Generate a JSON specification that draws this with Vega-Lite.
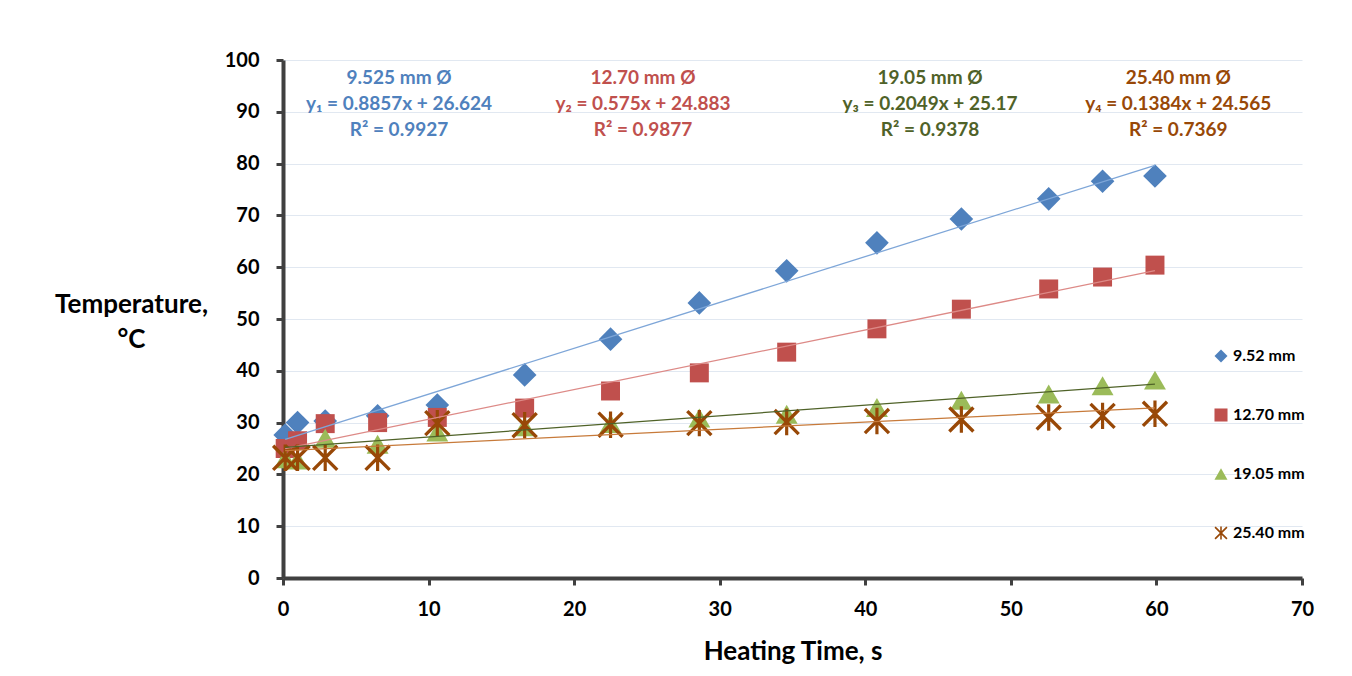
{
  "$schema": "https://vega.github.io/schema/vega-lite/v6.json",
  "width": 1019,
  "height": 518,
  "autosize": {"type": "none"},
  "padding": {"left": 283, "top": 60, "right": 50, "bottom": 98},
  "background": "white",
  "config": {
    "view": {"stroke": null},
    "font": "Lato",
    "axis": {
      "labelFont": "Lato", "labelFontWeight": "bold", "labelFontSize": 20, "labelColor": "#000000",
      "titleFont": "Lato", "titleFontWeight": "bold", "titleFontSize": 26, "titleColor": "#000000",
      "domainColor": "#404040", "domainWidth": 4, "tickColor": "#404040", "tickWidth": 3, "tickSize": 7,
      "gridColor": "#e1e8f1", "gridWidth": 1, "labelFlush": false
    },
    "legend": {
      "labelFont": "Lato", "labelFontWeight": "bold", "labelFontSize": 16, "labelColor": "#000000",
      "symbolSize": 170, "symbolStrokeWidth": 0, "symbolOpacity": 1
    }
  },
  "datasets": {
    "pts": [
      {"series": "9.52 mm", "t": 0.15, "temp": 27.6},
      {"series": "9.52 mm", "t": 1.0, "temp": 30.0},
      {"series": "9.52 mm", "t": 2.9, "temp": 30.3},
      {"series": "9.52 mm", "t": 6.5, "temp": 31.3},
      {"series": "9.52 mm", "t": 10.6, "temp": 33.4},
      {"series": "9.52 mm", "t": 16.6, "temp": 39.2},
      {"series": "9.52 mm", "t": 22.5, "temp": 46.1},
      {"series": "9.52 mm", "t": 28.6, "temp": 53.1},
      {"series": "9.52 mm", "t": 34.6, "temp": 59.3},
      {"series": "9.52 mm", "t": 40.8, "temp": 64.7},
      {"series": "9.52 mm", "t": 46.6, "temp": 69.3},
      {"series": "9.52 mm", "t": 52.6, "temp": 73.2},
      {"series": "9.52 mm", "t": 56.3, "temp": 76.6},
      {"series": "9.52 mm", "t": 59.9, "temp": 77.6},
      {"series": "12.70 mm", "t": 0.15, "temp": 25.0},
      {"series": "12.70 mm", "t": 1.0, "temp": 26.5},
      {"series": "12.70 mm", "t": 2.9, "temp": 29.8},
      {"series": "12.70 mm", "t": 6.5, "temp": 30.0},
      {"series": "12.70 mm", "t": 10.6, "temp": 31.0},
      {"series": "12.70 mm", "t": 16.6, "temp": 32.8},
      {"series": "12.70 mm", "t": 22.5, "temp": 36.1},
      {"series": "12.70 mm", "t": 28.6, "temp": 39.6},
      {"series": "12.70 mm", "t": 34.6, "temp": 43.6},
      {"series": "12.70 mm", "t": 40.8, "temp": 48.1},
      {"series": "12.70 mm", "t": 46.6, "temp": 51.9},
      {"series": "12.70 mm", "t": 52.6, "temp": 55.8},
      {"series": "12.70 mm", "t": 56.3, "temp": 58.1},
      {"series": "12.70 mm", "t": 59.9, "temp": 60.4},
      {"series": "19.05 mm", "t": 0.15, "temp": 23.0},
      {"series": "19.05 mm", "t": 1.0, "temp": 22.8},
      {"series": "19.05 mm", "t": 2.9, "temp": 27.0},
      {"series": "19.05 mm", "t": 6.5, "temp": 25.8},
      {"series": "19.05 mm", "t": 10.6, "temp": 28.2},
      {"series": "19.05 mm", "t": 16.6, "temp": 29.2},
      {"series": "19.05 mm", "t": 22.5, "temp": 29.8},
      {"series": "19.05 mm", "t": 28.6, "temp": 30.9},
      {"series": "19.05 mm", "t": 34.6, "temp": 31.6},
      {"series": "19.05 mm", "t": 40.8, "temp": 32.9},
      {"series": "19.05 mm", "t": 46.6, "temp": 34.3},
      {"series": "19.05 mm", "t": 52.6, "temp": 35.5},
      {"series": "19.05 mm", "t": 56.3, "temp": 37.1},
      {"series": "19.05 mm", "t": 59.9, "temp": 38.2},
      {"series": "25.40 mm", "t": 0.15, "temp": 23.2},
      {"series": "25.40 mm", "t": 1.0, "temp": 23.2},
      {"series": "25.40 mm", "t": 2.9, "temp": 23.2},
      {"series": "25.40 mm", "t": 6.5, "temp": 23.2},
      {"series": "25.40 mm", "t": 10.6, "temp": 29.9},
      {"series": "25.40 mm", "t": 16.6, "temp": 29.5},
      {"series": "25.40 mm", "t": 22.5, "temp": 29.6},
      {"series": "25.40 mm", "t": 28.6, "temp": 29.9},
      {"series": "25.40 mm", "t": 34.6, "temp": 30.1},
      {"series": "25.40 mm", "t": 40.8, "temp": 30.3},
      {"series": "25.40 mm", "t": 46.6, "temp": 30.6},
      {"series": "25.40 mm", "t": 52.6, "temp": 31.0},
      {"series": "25.40 mm", "t": 56.3, "temp": 31.3},
      {"series": "25.40 mm", "t": 59.9, "temp": 31.7}
    ],
    "fits": [
      {"series": "9.52 mm", "t": 0.15, "temp": 26.757},
      {"series": "9.52 mm", "t": 59.9, "temp": 79.677},
      {"series": "12.70 mm", "t": 0.15, "temp": 24.969},
      {"series": "12.70 mm", "t": 59.9, "temp": 59.326},
      {"series": "19.05 mm", "t": 0.15, "temp": 25.201},
      {"series": "19.05 mm", "t": 59.9, "temp": 37.444},
      {"series": "25.40 mm", "t": 0.15, "temp": 24.586},
      {"series": "25.40 mm", "t": 59.9, "temp": 32.855}
    ],
    "notes": [
      {"series": "9.52 mm", "t": 7.97, "temp": 96.5, "label": "9.525 mm Ø"},
      {"series": "9.52 mm", "t": 7.97, "temp": 91.5, "label": "y₁ = 0.8857x + 26.624"},
      {"series": "9.52 mm", "t": 7.97, "temp": 86.5, "label": "R² = 0.9927"},
      {"series": "12.70 mm", "t": 24.73, "temp": 96.5, "label": "12.70 mm  Ø"},
      {"series": "12.70 mm", "t": 24.73, "temp": 91.5, "label": "y₂ = 0.575x + 24.883"},
      {"series": "12.70 mm", "t": 24.73, "temp": 86.5, "label": "R² = 0.9877"},
      {"series": "19.05 mm", "t": 44.45, "temp": 96.5, "label": "19.05 mm Ø"},
      {"series": "19.05 mm", "t": 44.45, "temp": 91.5, "label": "y₃ = 0.2049x + 25.17"},
      {"series": "19.05 mm", "t": 44.45, "temp": 86.5, "label": "R² = 0.9378"},
      {"series": "25.40 mm", "t": 61.5, "temp": 96.5, "label": "25.40 mm Ø"},
      {"series": "25.40 mm", "t": 61.5, "temp": 91.5, "label": "y₄ = 0.1384x + 24.565"},
      {"series": "25.40 mm", "t": 61.5, "temp": 86.5, "label": "R² = 0.7369"}
    ]
  },
  "encoding": {
    "x": {
      "field": "t", "type": "quantitative",
      "scale": {"domain": [0, 70], "nice": false, "zero": false},
      "axis": {
        "values": [0, 10, 20, 30, 40, 50, 60, 70], "grid": false,
        "title": "Heating Time, s", "labelPadding": 14, "titleY": 81, "titleBaseline": "alphabetic"
      }
    },
    "y": {
      "field": "temp", "type": "quantitative",
      "scale": {"domain": [0, 100], "nice": false},
      "axis": {
        "values": [0, 10, 20, 30, 40, 50, 60, 70, 80, 90, 100], "grid": true,
        "title": ["Temperature,", "°C"], "titleAngle": 0, "titleAlign": "center",
        "titleX": -152, "titleY": 252, "titleBaseline": "alphabetic", "titleLineHeight": 35,
        "labelPadding": 17
      }
    },
    "color": {
      "field": "series", "type": "nominal",
      "scale": {"domain": ["9.52 mm", "12.70 mm", "19.05 mm", "25.40 mm"], "range": ["#4f81bd", "#c0504d", "#9bbb59", "#984807"]},
      "legend": {"title": null, "orient": "none", "legendX": 930, "legendY": 288, "rowPadding": 43, "labelOffset": 4}
    },
    "shape": {
      "field": "series", "type": "nominal",
      "scale": {"domain": ["9.52 mm", "12.70 mm", "19.05 mm", "25.40 mm"], "range": ["diamond", "square", "triangle-up", "M-1,-0.82L-0.82,-1L1,0.82L0.82,1Z M0.82,-1L1,-0.82L-0.82,1L-1,0.82Z M-0.12,-1L0.12,-1L0.12,1L-0.12,1Z"]},
      "legend": {"title": null, "orient": "none", "legendX": 930, "legendY": 288, "rowPadding": 43, "labelOffset": 4}
    }
  },
  "layer": [
    {
      "data": {"name": "pts"},
      "transform": [{"filter": {"field": "series", "equal": "9.52 mm"}}],
      "mark": {"type": "point", "filled": true, "opacity": 1, "size": 560}
    },
    {
      "data": {"name": "pts"},
      "transform": [{"filter": {"field": "series", "equal": "12.70 mm"}}],
      "mark": {"type": "point", "filled": true, "opacity": 1, "size": 360}
    },
    {
      "data": {"name": "pts"},
      "transform": [{"filter": {"field": "series", "equal": "19.05 mm"}}],
      "mark": {"type": "point", "filled": true, "opacity": 1, "size": 480}
    },
    {
      "data": {"name": "pts"},
      "transform": [{"filter": {"field": "series", "equal": "25.40 mm"}}],
      "mark": {"type": "point", "filled": true, "opacity": 1, "size": 700}
    },
    {
      "data": {"name": "fits"},
      "mark": {"type": "line", "strokeWidth": 1.3},
      "encoding": {
        "color": null,
        "shape": null,
        "stroke": {
          "field": "series", "type": "nominal",
          "scale": {"domain": ["9.52 mm", "12.70 mm", "19.05 mm", "25.40 mm"], "range": ["#7ea6d8", "#dd8a87", "#4f6228", "#c77a3a"]},
          "legend": null
        }
      }
    },
    {
      "data": {"name": "notes"},
      "mark": {"type": "text", "font": "Lato", "fontWeight": "bold", "fontSize": 19, "align": "center", "baseline": "middle"},
      "encoding": {
        "color": null,
        "shape": null,
        "text": {"field": "label"},
        "fill": {
          "field": "series", "type": "nominal",
          "scale": {"domain": ["9.52 mm", "12.70 mm", "19.05 mm", "25.40 mm"], "range": ["#4f81bd", "#c0504d", "#4f6228", "#984807"]},
          "legend": null
        }
      }
    }
  ]
}
